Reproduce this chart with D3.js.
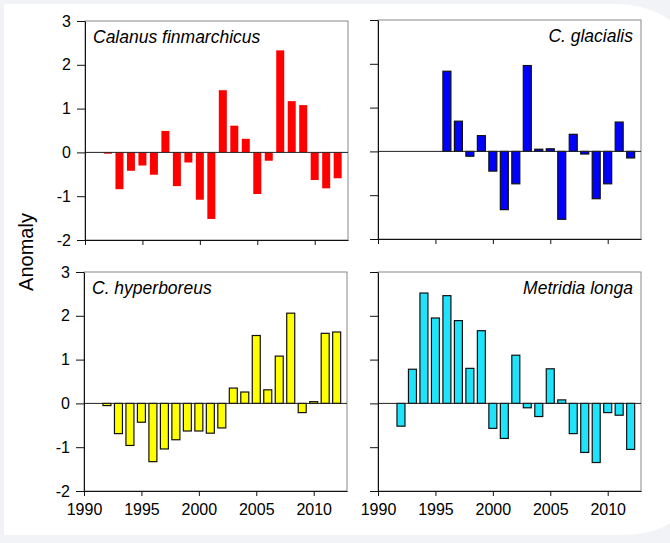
<!DOCTYPE html>
<html>
<head>
<script src="https://cdn.jsdelivr.net/npm/d3@7"></script>
<meta charset="utf-8">
<title>Copepod anomalies</title>
<style>
  body { margin: 0; background: #f2f3f6; }
  text { font-family: Arial, "Liberation Sans", sans-serif; fill: #000; }
  .axis path, .axis line { stroke: #111; }
  .title { font-size: 17.5px; font-style: italic; }
</style>
</head>
<body>
<script type="text/javascript">

var years = d3.range(1992, 2013);

var finmarchicus = [-0.03, -0.84, -0.42, -0.30, -0.51, 0.49, -0.77, -0.23, -1.08, -1.52,
                    1.42, 0.61, 0.31, -0.95, -0.19, 2.33, 1.17, 1.08, -0.63, -0.82, -0.59];
// glacialis starts in 1996
var glacialis = [null, null, null, null, 1.83, 0.69, -0.11, 0.36, -0.45, -1.33,
                 -0.74, 1.96, 0.05, 0.06, -1.55, 0.39, -0.06, -1.08, -0.74, 0.67, -0.15];
var hyperboreus = [-0.05, -0.69, -0.96, -0.43, -1.33, -1.04, -0.83, -0.63, -0.63, -0.68,
                   -0.56, 0.35, 0.26, 1.55, 0.31, 1.08, 2.06, -0.21, 0.04, 1.60, 1.63];
var longa = [-0.52, 0.78, 2.52, 1.95, 2.46, 1.89, 0.80, 1.66, -0.57, -0.80,
             1.10, -0.10, -0.30, 0.79, 0.08, -0.69, -1.12, -1.35, -0.21, -0.27, -1.05];

var yTicks = [-2, -1, 0, 1, 2, 3];
var xTicks = [1990, 1995, 2000, 2005, 2010];

var width = 670,
    height = 543;

var svg = d3.select("body").append("svg")
    .attr("width", width)
    .attr("height", height);

// white card with rounded right corners
svg.append("path")
    .attr("d", "M4,4 H610 Q690,4 690,70 V480 Q690,535 620,535 H4 Z")
    .style("fill", "#fff");

var panels = [
  {name: "Calanus finmarchicus", data: finmarchicus, color: "#ff0000", stroke: "none",
   x0: 85, y0: 21, labelX: false, labelY: true, anchor: "start"},
  {name: "C. glacialis", data: glacialis, color: "#0000ff", stroke: "#111",
   x0: 378, y0: 20, labelX: false, labelY: false, anchor: "end"},
  {name: "C. hyperboreus", data: hyperboreus, color: "#ffff00", stroke: "#111",
   x0: 84, y0: 272, labelX: true, labelY: true, anchor: "start"},
  {name: "Metridia longa", data: longa, color: "#1fe3fb", stroke: "#111",
   x0: 378, y0: 272, labelX: true, labelY: false, anchor: "end"}
];

var pw = 263, ph = 219;

// plain hyphen for negatives, like the original
var fmt = function(d) { return String(d); };

panels.forEach(function(p) {
  var g = svg.append("g").attr("transform", "translate(" + p.x0 + "," + p.y0 + ")");

  var x = d3.scaleLinear().domain([1990, 2012.9]).range([0, pw]);
  var y = d3.scaleLinear().domain([-2, 3]).range([ph, 0]);
  var bw = 8;

  // frame
  g.append("rect")
      .attr("width", pw).attr("height", ph)
      .style("fill", "none").style("stroke", "#888");

  var rows = years.map(function(yr, i) { return {year: yr, v: p.data[i]}; })
      .filter(function(d) { return d.v !== null; });

  g.selectAll("rect.bar")
      .data(rows).enter().append("rect")
      .attr("class", "bar")
      .attr("x", function(d) { return x(d.year) - bw / 2; })
      .attr("y", function(d) { return y(Math.max(0, d.v)); })
      .attr("width", bw)
      .attr("height", function(d) { return Math.abs(y(d.v) - y(0)); })
      .style("fill", p.color)
      .style("stroke", p.stroke)
      .style("stroke-width", 1.2);

  // zero line
  g.append("line")
      .attr("x1", 0).attr("x2", pw)
      .attr("y1", y(0)).attr("y2", y(0))
      .style("stroke", "#222");

  var ya = d3.axisLeft(y).tickValues(yTicks).tickSize(8).tickSizeOuter(0).tickPadding(6)
      .tickFormat(p.labelY ? fmt : "");
  g.append("g").attr("class", "axis").call(ya)
      .selectAll("text").style("font-size", "16px");

  var xa = d3.axisBottom(x).tickValues(xTicks).tickSize(5).tickSizeOuter(0).tickPadding(8)
      .tickFormat(p.labelX ? fmt : "");
  g.append("g").attr("class", "axis")
      .attr("transform", "translate(0," + ph + ")")
      .call(xa)
      .selectAll("text").style("font-size", "16px");

  g.append("text")
      .attr("class", "title")
      .attr("x", p.anchor === "start" ? 8 : pw - 8)
      .attr("y", 22)
      .attr("text-anchor", p.anchor)
      .text(p.name);
});

svg.append("text")
    .attr("transform", "translate(33,252) rotate(-90)")
    .attr("text-anchor", "middle")
    .style("font-size", "20px")
    .text("Anomaly");

</script>
</body>
</html>
